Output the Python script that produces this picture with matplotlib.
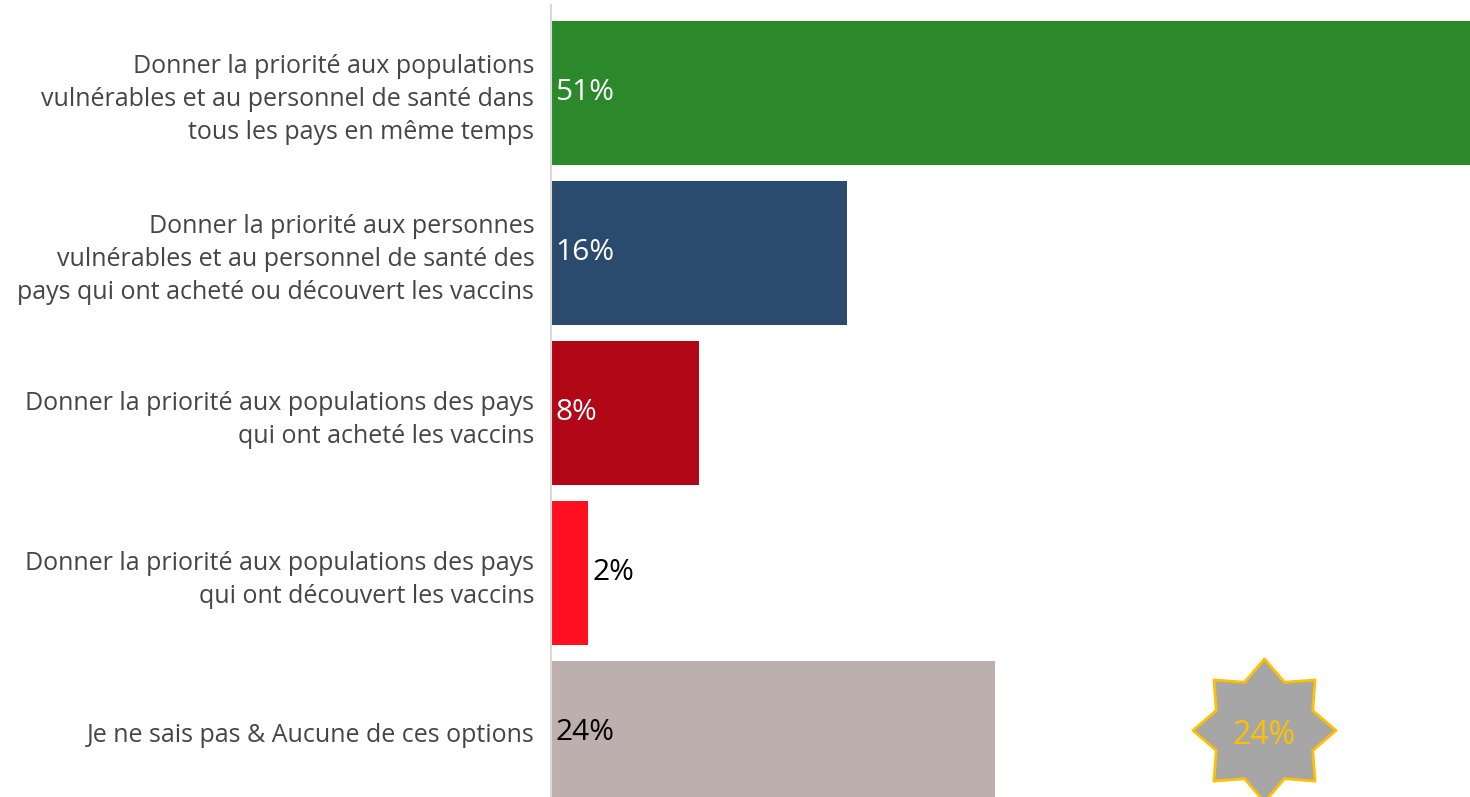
import matplotlib.pyplot as plt
import numpy as np
from matplotlib.path import Path

plt.rcParams['font.family'] = ['Open Sans', 'DejaVu Sans']

categories = [
    'Donner la priorité aux populations\nvulnérables et au personnel de santé dans\ntous les pays en même temps',
    'Donner la priorité aux personnes\nvulnérables et au personnel de santé des\npays qui ont acheté ou découvert les vaccins',
    'Donner la priorité aux populations des pays\nqui ont acheté les vaccins',
    'Donner la priorité aux populations des pays\nqui ont découvert les vaccins',
    'Je ne sais pas & Aucune de ces options',
]
values = [51, 16, 8, 2, 24]
bar_colors = ['#2b882b', '#2a4a6e', '#b20716', '#ff1020', '#bcafae']
label_colors = ['white', 'white', 'white', 'black', 'black']
star_value = 24

fig = plt.figure(figsize=(14.7, 7.97), dpi=100)
ax = fig.add_axes([551 / 1470, 0, 1 - 551 / 1470, 1 - 5 / 797])

y = np.arange(len(values))
ax.barh(y, values, height=0.9, color=bar_colors)
ax.set_xlim(0, 49.7)
ax.set_ylim(4.4, -0.547)

ax.set_yticks(y)
ax.set_yticklabels(categories, fontsize=18, color='#454545', linespacing=1.41)
ax.tick_params(axis='y', length=0, pad=12)
ax.set_xticks([])

for s in ['top', 'right', 'bottom']:
    ax.spines[s].set_visible(False)
ax.spines['left'].set_color('#d9d9d9')
ax.spines['left'].set_linewidth(1.5)

# value labels
for i, (v, c) in enumerate(zip(values, label_colors)):
    if v < 5:
        ax.annotate(f'{v}%', (v, i), xytext=(3, 0), textcoords='offset points',
                    va='center', ha='left', fontsize=21.5, color=c)
    else:
        ax.annotate(f'{v}%', (0, i), xytext=(3, 0), textcoords='offset points',
                    va='center', ha='left', fontsize=21.5, color=c)

# 8-pointed star badge
ang = np.deg2rad(np.arange(16) * 22.5 + 90)
rad = np.where(np.arange(16) % 2 == 0, 1.0, 0.73)
verts = np.column_stack([rad * np.cos(ang), rad * np.sin(ang)])
verts = np.vstack([verts, verts[:1]])
star = Path(verts, closed=True)
ax.plot([38.55], [3.98], marker=star, markersize=103, color='#a6a6a6',
        markeredgecolor='#ffc000', markeredgewidth=2, clip_on=False)
ax.annotate(f'{star_value}%', (38.55, 3.98), xytext=(0, -4), textcoords='offset points',
            ha='center', va='center', fontsize=23, color='#ffc000')

fig.savefig('out.png', dpi=100)
